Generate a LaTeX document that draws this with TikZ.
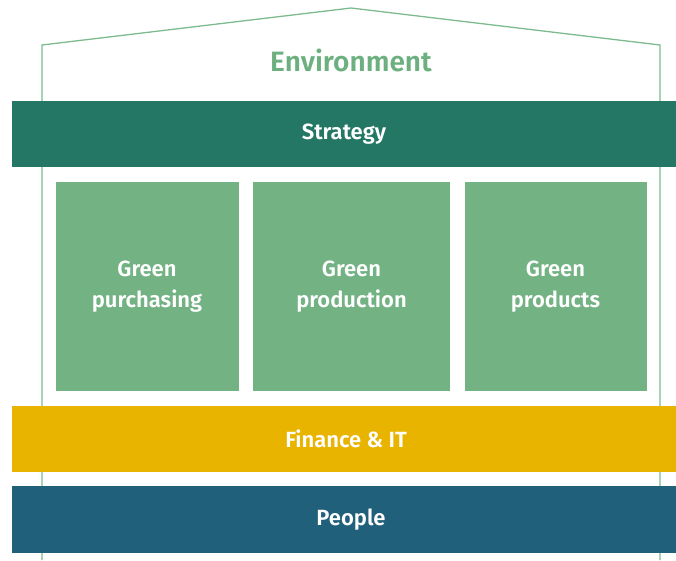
\documentclass[tikz,border=0pt]{standalone}
\usepackage{fontspec}
\setmainfont{Fira Sans}[BoldFont={Fira Sans SemiBold}]
\definecolor{outl}{HTML}{7DBB8E}
\definecolor{envtext}{HTML}{6DB07F}
\definecolor{strat}{HTML}{237764}
\definecolor{boxg}{HTML}{72B283}
\definecolor{fin}{HTML}{E8B400}
\definecolor{ppl}{HTML}{21607A}
\tikzset{
  band/.style={inner sep=0pt, outer sep=0pt, minimum width=664pt, minimum height=66pt,
    text=white, font=\fontsize{22}{28}\selectfont\bfseries},
  pillar/.style={inner sep=0pt, outer sep=0pt, fill=boxg, minimum height=209pt,
    text=white, align=center, font=\fontsize{22}{31}\selectfont\bfseries},
  outline/.style={draw=outl, line width=1.3pt, line join=miter}
}
\begin{document}
\begin{tikzpicture}[x=1pt,y=-1pt]
\useasboundingbox (0,0) rectangle (676,560);
\fill[white] (0,0) rectangle (676,560);
\coordinate (bl) at (42,560);
\coordinate (el) at (42,45);
\coordinate (apex) at (351,8);
\coordinate (er) at (660,45);
\coordinate (br) at (660,560);
\draw[outline] (bl) -- (el) -- (apex) -- (er) -- (br);
\node[text=envtext, font=\fontsize{28}{34}\selectfont\bfseries, inner sep=0pt] (env) at (351,60) {Environment};
\node[band, fill=strat] (strategy) at (344,134) {Strategy};
\node[pillar, minimum width=183pt] (p1) at (147,286.5) {Green\\purchasing};
\node[pillar, minimum width=197pt] (p2) at (351.5,286.5) {Green\\production};
\node[pillar, minimum width=182pt] (p3) at (555.5,286.5) {Green\\products};
\node[band, fill=fin] (finance) at (344,439) {\hspace*{4pt}Finance \& IT};
\node[band, fill=ppl, minimum height=67pt] (people) at (344,519.5) {\hspace*{14pt}People};
\end{tikzpicture}
\end{document}
